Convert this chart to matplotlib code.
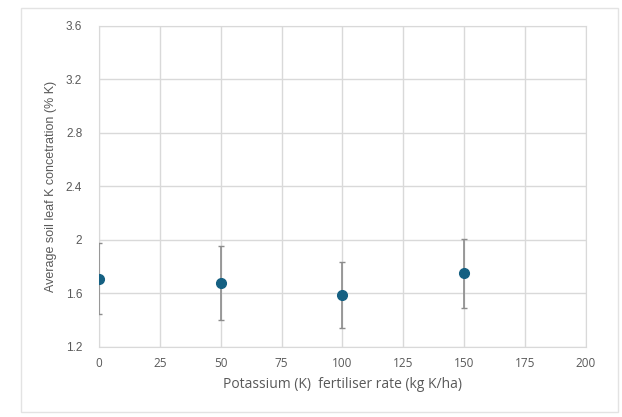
import matplotlib.pyplot as plt
from matplotlib.patches import Rectangle

plt.rcParams['font.family'] = ['Open Sans', 'DejaVu Sans']

rate = [0, 50, 100, 150]
leaf_k = [1.71, 1.68, 1.59, 1.75]
err = [0.265, 0.277, 0.246, 0.256]

xticks = [0, 25, 50, 75, 100, 125, 150, 175, 200]
yticks = [1.2, 1.6, 2.0, 2.4, 2.8, 3.2, 3.6]
ytick_labels = ['1.2', '1.6', '2', '2.4', '2.8', '3.2', '3.6']

fig = plt.figure(figsize=(6.22, 4.17), dpi=100)
ax = fig.add_axes([0.159, 0.168, 0.783, 0.770])

# outer chart border
fig.patches.append(Rectangle((0.033, 0.012), 0.96, 0.968, transform=fig.transFigure,
                             fill=False, edgecolor='#e3e3e3', linewidth=1))

ax.errorbar(rate, leaf_k, yerr=err, fmt='o', color='#156082', markersize=7,
            ecolor='#8c8c8c', elinewidth=1.2, capsize=2.5, capthick=1, zorder=3)

ax.set_xlim(0, 200)
ax.set_ylim(1.2, 3.6)
ax.set_xticks(xticks)
ax.set_yticks(yticks)
ax.set_yticklabels(ytick_labels, family='Liberation Sans')
ax.grid(color='#d9d9d9', linewidth=1)
ax.set_axisbelow(True)
for s in ax.spines.values():
    s.set_color('#d9d9d9')
ax.tick_params(length=0, labelcolor='#595959')
ax.tick_params(axis='x', labelsize=8.5, pad=7)
ax.tick_params(axis='y', labelsize=8.5, pad=12)

ax.set_xlabel('Potassium (K)  fertiliser rate (kg K/ha)', fontsize=10, color='#595959', labelpad=5)
ax.set_ylabel('Average soil leaf K concetration (% K)', fontsize=9, color='#595959',
              family='Liberation Sans', labelpad=6)

fig.savefig('out.png', dpi=100)
